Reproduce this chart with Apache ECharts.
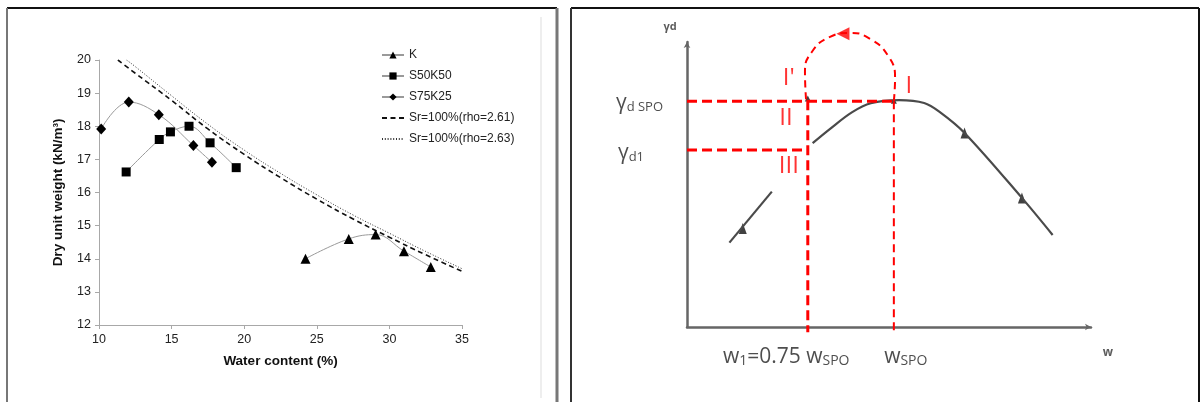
<!DOCTYPE html>
<html>
<head>
<meta charset="utf-8">
<script src="https://cdn.jsdelivr.net/npm/echarts@6/dist/echarts.min.js"></script>
<style>
  html, body { margin: 0; padding: 0; background: #fff; }
  #main { width: 1201px; height: 402px; }
</style>
</head>
<body>
<div id="main"></div>
<script>
// ---- left panel: compaction curves (water content %, dry unit weight kN/m3)
const kPoints = [[24.22, 14.0], [27.2, 14.6], [29.05, 14.73], [31.0, 14.23], [32.85, 13.75]];
const s50k50Points = [[11.87, 16.62], [14.15, 17.6], [14.92, 17.83], [16.2, 18.0], [17.65, 17.5], [19.45, 16.75]];
const s75k25Points = [[10.15, 17.92], [12.05, 18.73], [14.12, 18.35], [16.5, 17.42], [17.78, 16.91]];
// saturation lines
const sat261 = [[11.3, 20.0], [12.5, 19.6], [15, 18.78], [17.5, 17.92], [20, 17.15], [22.5, 16.45],
                [25, 15.8], [27.5, 15.2], [30, 14.65], [32.5, 14.12], [35, 13.62]];
const sat263 = [[11.9, 20.0], [12.5, 19.8], [15, 18.92], [17.5, 18.06], [20, 17.28], [22.5, 16.58],
                [25, 15.93], [27.5, 15.32], [30, 14.77], [32.5, 14.22], [35, 13.7]];
const xTicks = [10, 15, 20, 25, 30, 35];
const yTicks = [12, 13, 14, 15, 16, 17, 18, 19, 20];

// ---- right panel: schematic (arbitrary units 0..100)
const upperCurve = [[31.1, 64.5], [35.5, 69.6], [40.8, 75.3], [45.5, 78.5], [52.5, 79.6], [58.7, 78.6],
                    [62.6, 75.4], [68.7, 68.1], [82.9, 45.3], [90.5, 32.3]];
const lowerCurve = [[21.0, 47.5], [10.5, 29.6]];
const curveArrows = [[68.7, 68.1], [82.9, 45.3], [13.8, 34.6]];
const pointMarks = [[51.2, 79.4], [29.9, 80.2]];
const spoLevel = [[0, 79.2], [51.2, 79.2]];
const d1Level = [[0, 62.1], [29.9, 62.1]];
const w1Drop = [[29.9, 79.6], [29.9, -1.8]];
const wSpoDrop = [[51.2, 79.2], [51.2, -1.8]];
const loopArc = [[51.2, 79.3], [51.5, 87.4], [49.8, 95.1], [45.3, 101.1], [40.3, 103.2],
                 [35.4, 101.8], [30.9, 96.5], [29.2, 89.5], [29.5, 79.3]];
const loopArrow = [[38.6, 102.9]];
const romanLabels = [["I'", 25.2, 87.4], ['I', 54.9, 84.6], ['II', 24.5, 73.4], ['III', 25.2, 56.6]];

const chart = echarts.init(document.getElementById('main'));

const SANS = "'Open Sans', 'DejaVu Sans', sans-serif";
const blackMark = { color: '#000' };
const curveLine = { color: '#9a9a9a', width: 1 };
const red = '#ff0000';

function textPoint(x, y, text, pos, extra) {
  return {
    type: 'scatter', xAxisIndex: 1, yAxisIndex: 1, symbolSize: 0, silent: true, clip: false,
    data: [[x, y]],
    label: Object.assign({
      show: true, position: pos, formatter: text, distance: 0,
      fontFamily: SANS, color: '#222'
    }, extra || {})
  };
}

const subRich = {
  g: { fontSize: 21, fontFamily: SANS, color: '#222' },
  s: { fontSize: 13, fontFamily: SANS, color: '#222', padding: [8, 0, 0, 0] },
  b: { fontSize: 21, fontFamily: SANS, color: '#222' },
  t: { fontSize: 14, fontFamily: SANS, color: '#222', padding: [9, 0, 0, 0] }
};

chart.setOption({
  animation: false,
  backgroundColor: '#fff',
  textStyle: { fontFamily: "'Liberation Sans', Arial, sans-serif" },
  graphic: [
    { type: 'line', shape: { x1: 7, y1: 8, x2: 557, y2: 8 }, style: { stroke: '#111', lineWidth: 2 } },
    { type: 'line', shape: { x1: 7, y1: 8, x2: 7, y2: 402 }, style: { stroke: '#777', lineWidth: 2 } },
    { type: 'line', shape: { x1: 557, y1: 8, x2: 557, y2: 402 }, style: { stroke: '#777', lineWidth: 3 } },
    { type: 'line', shape: { x1: 541, y1: 17, x2: 541, y2: 398 }, style: { stroke: '#ddd', lineWidth: 1 } },
    { type: 'line', shape: { x1: 571, y1: 8, x2: 1199, y2: 8 }, style: { stroke: '#111', lineWidth: 2 } },
    { type: 'line', shape: { x1: 571, y1: 8, x2: 571, y2: 402 }, style: { stroke: '#333', lineWidth: 2 } },
    { type: 'line', shape: { x1: 1199, y1: 8, x2: 1199, y2: 402 }, style: { stroke: '#111', lineWidth: 2 } }
  ],
  legend: {
    orient: 'vertical', left: 376, top: 44, itemWidth: 22, itemHeight: 9, itemGap: 9,
    textStyle: { fontSize: 12, color: '#222', fontFamily: "'Liberation Sans', Arial, sans-serif" },
    data: ['K', 'S50K50', 'S75K25',
           { name: 'Sr=100%(rho=2.61)', itemStyle: { opacity: 0 } },
           { name: 'Sr=100%(rho=2.63)', itemStyle: { opacity: 0 } }]
  },
  grid: [
    { left: 99, top: 60, width: 363, height: 265 },
    { left: 687, top: 42, width: 404, height: 285 }
  ],
  xAxis: [
    {
      type: 'value', gridIndex: 0, min: 10, max: 35, interval: 5,
      name: 'Water content (%)', nameLocation: 'middle', nameGap: 29,
      nameTextStyle: { fontSize: 13.5, fontWeight: 'bold', color: '#111' },
      axisLine: { lineStyle: { color: '#a8a8a8', width: 1 } },
      axisTick: { show: true, length: 4, lineStyle: { color: '#a8a8a8' } },
      axisLabel: { fontSize: 12.5, color: '#222', margin: 8, customValues: xTicks },
      splitLine: { show: false }
    },
    {
      type: 'value', gridIndex: 1, min: 0, max: 100,
      axisLine: { symbol: ['none', 'arrow'], symbolSize: [5, 6], lineStyle: { color: '#666', width: 2.5 } },
      axisTick: { show: false }, axisLabel: { show: false }, splitLine: { show: false }
    }
  ],
  yAxis: [
    {
      type: 'value', gridIndex: 0, min: 12, max: 20, interval: 1,
      name: 'Dry unit weight (kN/m³)', nameLocation: 'middle', nameGap: 34, nameRotate: 90,
      nameTextStyle: { fontSize: 13.5, fontWeight: 'bold', color: '#111' },
      axisLine: { show: true, lineStyle: { color: '#a8a8a8', width: 1 } },
      axisTick: { show: true, length: 4, lineStyle: { color: '#a8a8a8' } },
      axisLabel: { fontSize: 12.5, color: '#222', margin: 8, customValues: yTicks },
      splitLine: { show: false }
    },
    {
      type: 'value', gridIndex: 1, min: 0, max: 100,
      axisLine: { show: true, symbol: ['none', 'arrow'], symbolSize: [5, 6], lineStyle: { color: '#666', width: 2.5 } },
      axisTick: { show: false }, axisLabel: { show: false }, splitLine: { show: false }
    }
  ],
  series: [
    { name: 'K', type: 'line', data: kPoints, smooth: 0.4, symbol: 'triangle', symbolSize: 10,
      itemStyle: blackMark, lineStyle: curveLine },
    { name: 'S50K50', type: 'line', data: s50k50Points, smooth: 0.4, symbol: 'rect', symbolSize: 9,
      itemStyle: blackMark, lineStyle: curveLine },
    { name: 'S75K25', type: 'line', data: s75k25Points, smooth: 0.4, symbol: 'diamond', symbolSize: [10, 11],
      itemStyle: blackMark, lineStyle: curveLine },
    { name: 'Sr=100%(rho=2.61)', type: 'line', data: sat261, smooth: true, symbol: 'none',
      itemStyle: { color: '#111' }, lineStyle: { color: '#111', width: 1.6, type: [5, 3.5] } },
    { name: 'Sr=100%(rho=2.63)', type: 'line', data: sat263, smooth: true, symbol: 'none',
      itemStyle: { color: '#222' }, lineStyle: { color: '#333', width: 1, type: [1, 1.8] } },

    // schematic panel
    { type: 'line', xAxisIndex: 1, yAxisIndex: 1, data: upperCurve, smooth: 0.35, symbol: 'none',
      lineStyle: { color: '#4a4a4a', width: 2.2 }, clip: false, silent: true },
    { type: 'line', xAxisIndex: 1, yAxisIndex: 1, data: lowerCurve, symbol: 'none',
      lineStyle: { color: '#4a4a4a', width: 2.2 }, clip: false, silent: true },
    { type: 'scatter', xAxisIndex: 1, yAxisIndex: 1, data: curveArrows, symbol: 'triangle', symbolSize: [8, 11],
      itemStyle: { color: '#111' }, silent: true },
    { type: 'scatter', xAxisIndex: 1, yAxisIndex: 1, data: pointMarks, symbol: 'triangle', symbolSize: 6,
      itemStyle: { color: '#111' }, silent: true },
    { type: 'line', xAxisIndex: 1, yAxisIndex: 1, data: spoLevel, symbol: 'none',
      lineStyle: { color: red, width: 3, type: [10, 5] }, silent: true },
    { type: 'line', xAxisIndex: 1, yAxisIndex: 1, data: d1Level, symbol: 'none',
      lineStyle: { color: red, width: 3, type: [10, 5] }, silent: true },
    { type: 'line', xAxisIndex: 1, yAxisIndex: 1, data: w1Drop, symbol: 'none', clip: false,
      lineStyle: { color: red, width: 3, type: [10, 5] }, silent: true },
    { type: 'line', xAxisIndex: 1, yAxisIndex: 1, data: wSpoDrop, symbol: 'none', clip: false,
      lineStyle: { color: red, width: 2, type: [8, 5] }, silent: true },
    { type: 'line', xAxisIndex: 1, yAxisIndex: 1, data: loopArc, smooth: 0.5, symbol: 'none', clip: false,
      lineStyle: { color: red, width: 2, type: [7, 5] }, silent: true },
    { type: 'scatter', xAxisIndex: 1, yAxisIndex: 1, data: loopArrow, symbol: 'triangle', symbolSize: [13, 13],
      symbolRotate: 90, itemStyle: { color: red }, clip: false, silent: true },
    { type: 'scatter', xAxisIndex: 1, yAxisIndex: 1, symbolSize: 0, silent: true, clip: false,
      data: romanLabels.map(r => ({ value: [r[1], r[2]], name: r[0] })),
      label: { show: true, position: 'inside', formatter: p => p.name,
               fontFamily: SANS, fontSize: 24, color: red } },

    textPoint(-4.2, 105.3, 'γd', 'inside', { fontSize: 11, fontWeight: 'bold', color: '#333' }),
    textPoint(104.2, -9.1, 'w', 'inside', { fontSize: 12, fontWeight: 'bold', color: '#333' }),
    textPoint(-17.6, 78.6, '{g|γ}{s|d SPO}', 'right', { rich: subRich }),
    textPoint(-17.1, 61.1, '{g|γ}{s|d1}', 'right', { rich: subRich }),
    textPoint(8.9, -10.5, '{b|w}{t|1}{b|=0.75 w}{t|SPO}', 'right', { rich: subRich }),
    textPoint(48.8, -10.5, '{b|w}{t|SPO}', 'right', { rich: subRich })
  ]
});
</script>
</body>
</html>
